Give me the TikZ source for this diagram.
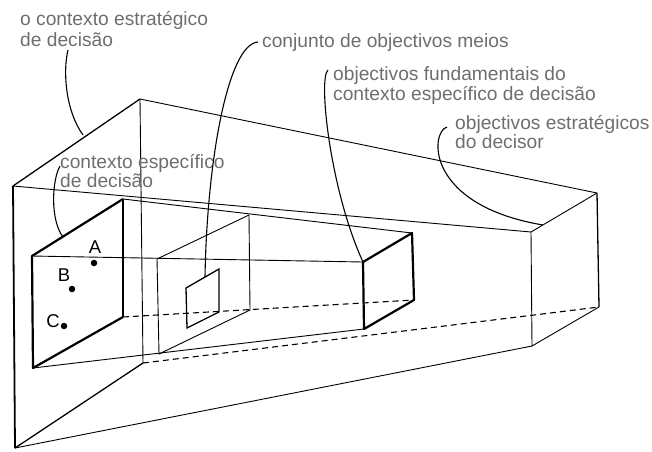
\documentclass[tikz,border=0pt]{standalone}
\usepackage{fontspec}
\setmainfont{Liberation Sans}
\definecolor{labelgray}{RGB}{110,110,110}
\begin{document}
\begin{tikzpicture}[x=1pt,y=-1pt,
  thinline/.style={line width=0.9pt},
  midline/.style={line width=1.3pt},
  thickline/.style={line width=2.2pt, line join=round},
  hidden/.style={line width=1.1pt, dash pattern=on 6pt off 4pt},
  leader/.style={line width=1.1pt},
  lbl/.style={text=labelgray, font=\fontsize{19.2}{21}\selectfont, inner sep=0pt, anchor=base west},
  pt/.style={font=\fontsize{18.5}{20}\selectfont, inner sep=0pt},
  dot/.style={circle, fill=black, inner sep=0pt, minimum size=6.5pt}]
\useasboundingbox (0,0) rectangle (652,451);
% outer frustum
\coordinate (O1) at (13,186);
\coordinate (O2) at (140,99);
\coordinate (O3) at (143,363);
\coordinate (O4) at (15,448);
\coordinate (R1) at (531,232);
\coordinate (R2) at (597,193);
\coordinate (R3) at (599,307);
\coordinate (R4) at (532,346);
% inner frustum
\coordinate (I1) at (32,256);
\coordinate (I2) at (123,199);
\coordinate (I3) at (123,317);
\coordinate (I4) at (33,368);
\coordinate (S1) at (363,262);
\coordinate (S2) at (412,233);
\coordinate (S3) at (414,300);
\coordinate (S4) at (364,329);
% middle section
\coordinate (M1) at (157,259);
\coordinate (M2) at (249,215);
\coordinate (M3) at (250,310);
\coordinate (M4) at (159,354);
% small square
\coordinate (Q1) at (186,288);
\coordinate (Q2) at (219,269);
\coordinate (Q3) at (219,312);
\coordinate (Q4) at (187,328);

% outer edges
\draw[midline] (O1) -- (O2);
\draw[thinline] (O2) -- (O3);
\draw[midline] (O3) -- (O4);
\draw[line width=1.8pt] (O1) -- (O4);
\draw[thinline] (O1) -- (R1);
\draw[thinline] (O2) -- (R2);
\draw[thinline] (O4) -- (R4);
\draw[hidden] (O3) -- (R3);
\draw[thinline] (R1) -- (R2);
\draw[midline] (R2) -- (R3);
\draw[thinline] (R3) -- (R4) -- (R1);

% inner edges
\draw[thinline] (I1) -- (S1);
\draw[thinline] (I2) -- (S2);
\draw[thinline] (I4) -- (S4);
\draw[hidden] (I3) -- (S3);
\draw[thickline] (I2) -- (I1) -- (I4) -- (I3);
\draw[midline] (I2) -- (I3);
\draw[thickline] (S1) -- (S2) -- (S3) -- (S4) -- cycle;

% middle section and square
\draw[thinline] (M1) -- (M2) -- (M3) -- (M4) -- cycle;
\draw[midline] (Q1) -- (Q2) -- (Q3) -- (Q4) -- cycle;

% points
\node[dot] (dA) at (94,263) {};
\node[dot] (dB) at (72,289) {};
\node[dot] (dC) at (64,326) {};
\node[pt] (tA) at (95,247) {A};
\node[pt] (tB) at (64,275) {B};
\node[pt] (tC) at (53,321) {C};

% labels
\node[lbl] (l1a) at (20,25) {o contexto estratégico};
\node[lbl] (l1b) at (20,46) {de decisão};
\node[lbl] (l2a) at (60,168) {contexto específico};
\node[lbl] (l2b) at (60,187) {de decisão};
\node[lbl] (l3) at (262,47) {conjunto de objectivos meios};
\node[lbl] (l4a) at (333,80) {objectivos fundamentais do};
\node[lbl] (l4b) at (333,100) {contexto específico de decisão};
\node[lbl] (l5a) at (455,129) {objectivos estratégicos};
\node[lbl] (l5b) at (455,148) {do decisor};

% leaders
\coordinate (e1) at (83,135);
\coordinate (e2) at (63,237);
\coordinate (e3) at (205,277);
\coordinate (e5) at (543,225);
\draw[leader] (68,50) .. controls (63,70) and (65,110) .. (e1);
\draw[leader] (60,166) .. controls (52,180) and (50,220) .. (e2);
\draw[leader] (258,42) .. controls (228,44) and (207,160) .. (e3);
\draw[leader] (328,70) .. controls (318,78) and (330,190) .. (S1);
\draw[leader] (447,127) .. controls (430,132) and (425,205) .. (e5);
\end{tikzpicture}
\end{document}
